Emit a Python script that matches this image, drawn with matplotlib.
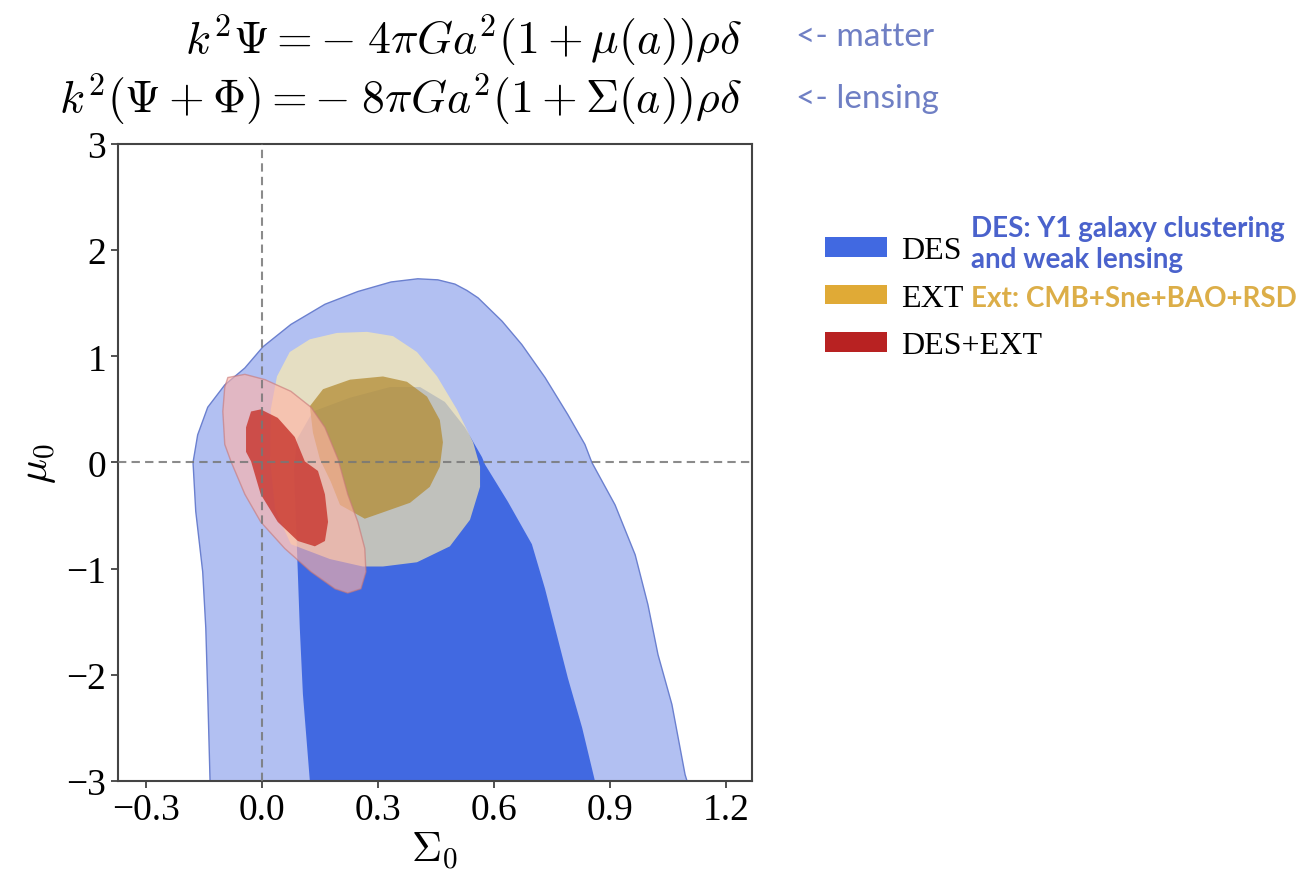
import matplotlib.pyplot as plt
from matplotlib.patches import Patch

plt.rcParams['mathtext.fontset'] = 'cm'
plt.rcParams['font.family'] = 'Liberation Serif'

# contour outlines (Sigma_0, mu_0)
des_outer_sigma = [-0.134, -0.140, -0.145, -0.153, -0.171, -0.178, -0.166, -0.140, -0.096, -0.044,
                   0.003, 0.075, 0.163, 0.248, 0.334, 0.403, 0.455, 0.499, 0.530, 0.559, 0.621,
                   0.672, 0.732, 0.791, 0.835, 0.853, 0.913, 0.965, 0.998, 1.024, 1.060, 1.094, 1.099]
des_outer_mu = [-3.0, -2.18, -1.56, -1.03, -0.46, 0.0, 0.26, 0.52, 0.73, 0.89,
                1.09, 1.30, 1.49, 1.61, 1.70, 1.73, 1.72, 1.68, 1.62, 1.55, 1.33,
                1.11, 0.80, 0.45, 0.17, 0.0, -0.40, -0.87, -1.34, -1.81, -2.28, -2.94, -3.0]

des_inner_sigma = [0.124, 0.106, 0.098, 0.093, 0.088, 0.083, 0.091, 0.132, 0.228, 0.331, 0.409,
                   0.473, 0.525, 0.569, 0.577, 0.636, 0.698, 0.732, 0.758, 0.791, 0.828, 0.861]
des_inner_mu = [-3.0, -2.18, -1.56, -1.05, -0.54, -0.07, 0.22, 0.48, 0.61, 0.71, 0.71,
                0.57, 0.33, 0.05, -0.02, -0.37, -0.77, -1.19, -1.56, -2.03, -2.50, -3.0]

ext_outer_sigma = [0.039, 0.072, 0.124, 0.194, 0.272, 0.339, 0.401, 0.453, 0.504, 0.546, 0.564,
                   0.564, 0.538, 0.486, 0.401, 0.313, 0.261, 0.176, 0.075, 0.034, 0.021, 0.023]
ext_outer_mu = [0.81, 1.04, 1.16, 1.22, 1.23, 1.19, 1.04, 0.81, 0.50, 0.19, -0.04,
                -0.23, -0.54, -0.79, -0.94, -0.98, -0.98, -0.91, -0.77, -0.44, 0.03, 0.50]

ext_inner_sigma = [0.124, 0.158, 0.228, 0.313, 0.375, 0.427, 0.460, 0.468, 0.460, 0.434, 0.383,
                   0.313, 0.266, 0.202, 0.178, 0.150, 0.132]
ext_inner_mu = [0.53, 0.69, 0.78, 0.81, 0.76, 0.62, 0.40, 0.19, -0.04, -0.23, -0.38,
                -0.47, -0.53, -0.40, -0.18, 0.03, 0.28]

both_outer_sigma = [-0.088, -0.044, 0.008, 0.075, 0.127, 0.163, 0.197, 0.222, 0.248, 0.266, 0.269,
                    0.256, 0.222, 0.189, 0.127, 0.059, -0.003, -0.044, -0.080, -0.096, -0.101, -0.096]
both_outer_mu = [0.80, 0.83, 0.78, 0.67, 0.52, 0.33, 0.03, -0.30, -0.56, -0.81, -1.03,
                 -1.19, -1.23, -1.19, -1.03, -0.81, -0.56, -0.30, 0.01, 0.17, 0.48, 0.71]

both_inner_sigma = [-0.028, -0.003, 0.041, 0.085, 0.111, 0.145, 0.163, 0.171, 0.163, 0.137, 0.093,
                    0.041, -0.003, -0.028, -0.041, -0.041]
both_inner_mu = [0.48, 0.50, 0.42, 0.24, 0.01, -0.08, -0.30, -0.56, -0.74, -0.79, -0.74,
                 -0.56, -0.30, 0.01, 0.10, 0.33]

x_ticks = [-0.3, 0.0, 0.3, 0.6, 0.9, 1.2]
y_ticks = [-3, -2, -1, 0, 1, 2, 3]
labels = ['DES', 'EXT', 'DES+EXT']
legend_colors = ['#4169e1', '#e0aa36', '#b82222']

fig = plt.figure(figsize=(13.11, 8.79), dpi=100)
ax = fig.add_axes([0.090, 0.1104, 0.4836, 0.7247])

# DES
ax.fill(des_outer_sigma, des_outer_mu, fc='#b2c0f2', ec='#6b80cf', lw=1.0, zorder=1)
ax.fill(des_inner_sigma, des_inner_mu, fc='#4169e1', ec='none', zorder=2)
# EXT
ax.fill(ext_outer_sigma, ext_outer_mu, fc=(1.0, 0.93, 0.67), alpha=0.67, ec='none', zorder=3)
ax.fill(ext_inner_sigma, ext_inner_mu, fc=(0.70, 0.55, 0.20), alpha=0.75, ec='none', zorder=4)
# DES+EXT
ax.fill(both_outer_sigma, both_outer_mu, fc=(1.0, 0.70, 0.65), alpha=0.62, ec='#c87878', lw=1.0, zorder=5)
ax.fill(both_inner_sigma, both_inner_mu, fc=(0.78, 0.2, 0.17), alpha=0.8, ec='none', zorder=6)

ax.axvline(0, color='#777777', ls=(0, (4, 2.5)), lw=1.5, alpha=0.85, zorder=7)
ax.axhline(0, color='#777777', ls=(0, (4, 2.5)), lw=1.5, alpha=0.85, zorder=7)

ax.set_xlim(-0.372, 1.267)
ax.set_ylim(-3, 3)
ax.set_xticks(x_ticks)
ax.set_xticklabels(['\u2212%.1f' % abs(v) if v < 0 else '%.1f' % v for v in x_ticks])
ax.set_yticks(y_ticks)
ax.set_yticklabels(['\u2212%d' % abs(v) if v < 0 else '%d' % v for v in y_ticks])
ax.tick_params(labelsize=27, length=5, width=1.2, color='#333333')
for s in ax.spines.values():
    s.set_color('#444444')
    s.set_linewidth(1.5)
ax.set_xlabel(r'$\Sigma_0$', fontsize=30, labelpad=2)
ax.set_ylabel(r'$\mu_0$', fontsize=30, labelpad=6)

# equations on top
fig.text(0.566, 0.955, r'$k^2\Psi = -\;4\pi G a^2(1 + \mu(a))\rho\delta$',
         fontsize=33, ha='right', va='center')
fig.text(0.566, 0.887, r'$k^2(\Psi + \Phi) = -\;8\pi G a^2(1 + \Sigma(a))\rho\delta$',
         fontsize=33, ha='right', va='center')
fig.text(0.607, 0.958, '<- matter', fontsize=24, color='#6f7fc4', family='Lato', va='center')
fig.text(0.607, 0.887, '<- lensing', fontsize=24, color='#6f7fc4', family='Lato', va='center')

handles = [Patch(fc=c, ec='none') for c in legend_colors]
fig.legend(handles, labels, loc='upper left', bbox_to_anchor=(0.629, 0.730), frameon=False,
           borderpad=0, borderaxespad=0, fontsize=23, handlelength=1.95, handleheight=0.55,
           handletextpad=0.45, labelspacing=0.58)

fig.text(0.741, 0.722, 'DES: Y1 galaxy clustering\nand weak lensing', fontsize=20,
         color='#4a62cc', family='Lato', weight='bold', va='center', linespacing=1.22)
fig.text(0.741, 0.660, 'Ext: CMB+Sne+BAO+RSD', fontsize=20,
         color='#dcae48', family='Lato', weight='bold', va='center')

plt.savefig('out.png', dpi=100)
